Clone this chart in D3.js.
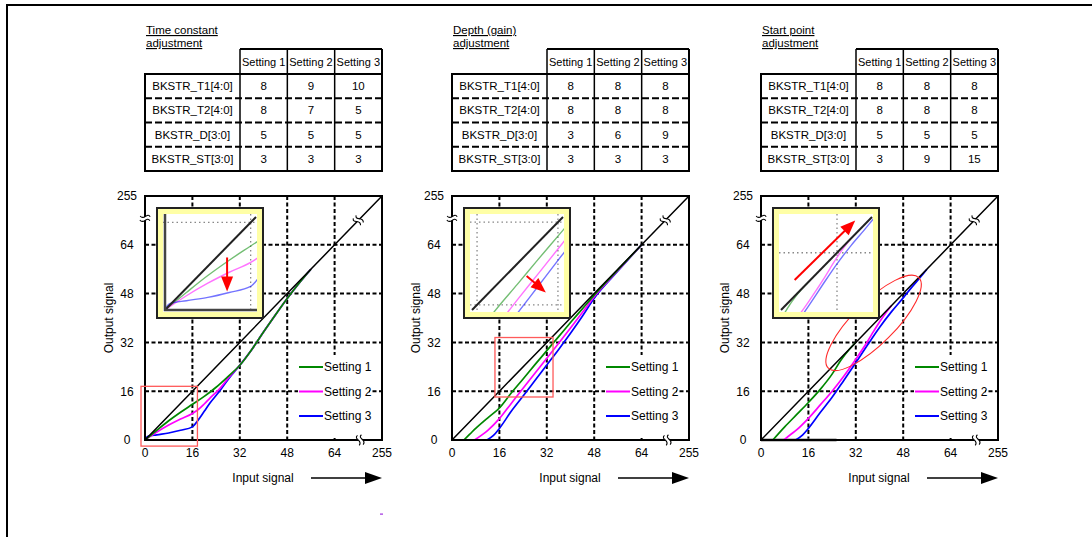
<!DOCTYPE html>
<meta charset="utf-8">
<title>BKSTR settings</title>
<style>
body { margin: 0; background: #fff; }
text { font-family: Arial, "Liberation Sans", sans-serif; fill: #000; }
text.title { font-size: 11.5px; text-decoration: underline; }
text.cell { font-size: 11.5px; text-anchor: middle; }
text.head { font-size: 11px; text-anchor: middle; }
text.tick { font-size: 12px; text-anchor: middle; }
text.axis { font-size: 12px; }
text.legend { font-size: 12px; }
</style>
<script src="https://d3js.org/d3.v7.min.js"></script>
<div id="chart"></div>
<script>

// tick values (piecewise axis: 0..64 then a break up to 255)
var ticks = [0, 16, 32, 48, 64, 255];
var settingNames = ["Setting 1", "Setting 2", "Setting 3"];
var registerNames = ["BKSTR_T1[4:0]", "BKSTR_T2[4:0]", "BKSTR_D[3:0]", "BKSTR_ST[3:0]"];

var timeTitle = ["Time constant", "adjustment"];
var depthTitle = ["Depth (gain)", "adjustment"];
var startTitle = ["Start point", "adjustment"];

var timeValues  = [[8, 9, 10], [8, 7, 5], [5, 5, 5], [3, 3, 3]];
var depthValues = [[8, 8, 8], [8, 8, 8], [3, 6, 9], [3, 3, 3]];
var startValues = [[8, 8, 8], [8, 8, 8], [5, 5, 5], [3, 9, 15]];

// curves [input, output]
var timeS1 = [[0,0],[4,3.2],[8,6.3],[12,9.1],[16,11.7],[20,14.3],[24,17.3],[28,20.8],[32,24.5],[36,29.6],[40,35.4],[44,41],[48,46.4],[52,51.4],[56,56]];
var timeS2 = [[0,0],[4,2.6],[8,4.9],[12,6.9],[16,8.7],[18,10],[20,11.8],[22,13.8],[25,16.6],[28,20.2],[32,24.5],[36,29.6],[40,35.4],[44,41],[48,46.4],[52,51.4],[56,56]];
var timeS3 = [[0,0.3],[1,1.2],[4,1.7],[8,2.3],[12,3.2],[16,4.3],[18,6.6],[20,9.4],[22,12.2],[25,15.8],[28,19.8],[32,24.5],[36,29.6],[40,35.4],[44,41],[48,46.4],[52,51.4],[56,56]];

var depthS1 = [[4,0],[6,1.9],[8,3.8],[12,7.2],[16,10.5],[20,15.4],[24,20],[28,24.7],[32,29.3],[36,33.9],[40,38.5],[44,43],[48,47.5],[56,55.8],[64,64]];
var depthS2 = [[7.6,0],[10,1.6],[12,3.1],[16,7],[20,12],[24,17],[28,21.9],[32,26.8],[36,31.7],[40,36.7],[44,41.8],[48,47],[56,55.6],[64,64]];
var depthS3 = [[11.8,0],[14,1.5],[16,3.8],[20,9.4],[24,14.4],[28,19.5],[32,24.6],[36,29.7],[40,35],[44,40.6],[48,46.5],[56,55.4],[64,64]];

var startS1 = [[4,0],[8,4.3],[12,8.3],[16,12.3],[20,16.6],[24,21.6],[27,26.2],[30,29.9],[32,32]];
var startS2 = [[7.7,0],[10,1.8],[12,3.3],[16,7.1],[20,11.5],[24,16],[28,21],[32,26.5],[36,32.4],[38,35.6],[40,38.7],[42,41.5],[44,44]];
var startS3 = [[11.7,0],[14,1.6],[16,3.8],[20,9],[24,14],[28,19.6],[32,25.3],[36,31.2],[40,36.9],[44,42],[48,46.6],[51,50.2],[54,53.6],[56,56]];

var seriesColors = ["#008800", "#ff00ff", "#0000ff"];

var panels = [
  { left: 145, title: timeTitle, table: timeValues, series: [timeS1, timeS2, timeS3],
    inset: { domain: [0, 17], dots: [16], axes: true, arrow: [[11.6, 9.6], [11.6, 3.4]] },
    mark: { kind: "rect", box: [-1.35, 17.7, -2, 17.6] } },
  { left: 452, title: depthTitle, table: depthValues, series: [depthS1, depthS2, depthS3],
    inset: { domain: [15, 33], dots: [16, 32], axes: false, arrow: [[25.8, 21.6], [29.6, 18.4]] },
    mark: { kind: "rect", box: [14.5, 34.1, 14.1, 33.6] } },
  { left: 761, title: startTitle, table: startValues, series: [startS1, startS2, startS3],
    inset: { domain: [24, 50], dots: [40], axes: false, arrow: [[27.9, 32.4], [45.2, 49]] },
    mark: { kind: "ellipse", center: [38, 38.4] } }
];

var W = 1092, H = 537;
var plotTop = 196, plotBottom = 440, plotW = 237;

var svg = d3.select("#chart").append("svg")
    .attr("width", W).attr("height", H);

// page frame (left and top edge)
svg.append("path")
    .attr("d", "M7,537 V5 H1092")
    .attr("fill", "none").attr("stroke", "#000").attr("stroke-width", 2);

// small stray mark under the first chart
svg.append("rect").attr("x", 380).attr("y", 513.5).attr("width", 3).attr("height", 1.2).attr("fill", "#a030e0");

function breakMark(g, x, y, angle) {
  var m = g.append("g").attr("transform", "translate(" + x + "," + y + ") rotate(" + angle + ")");
  m.append("path").attr("d", "M-2,-5 C-7,-2 3,1 -2,5 L2,5 C7,2 -3,-1 2,-5 Z").attr("fill", "#fff");
  m.append("path").attr("d", "M-2,-5 C-7,-2 3,1 -2,5").attr("fill", "none").attr("stroke", "#000").attr("stroke-width", 1.1);
  m.append("path").attr("d", "M2,-5 C-3,-2 7,1 2,5").attr("fill", "none").attr("stroke", "#000").attr("stroke-width", 1.1);
}

panels.forEach(function(p, pi) {
  var L = p.left;
  var g = svg.append("g");

  // ---- title + table
  p.title.forEach(function(t, i) {
    g.append("text").attr("class", "title").attr("x", L + 1).attr("y", 34 + i * 13).text(t);
  });
  var labW = 95, colW = (plotW - labW) / 3, headTop = 49, bodyTop = 74, rowH = 24.25;
  var colX = d3.range(4).map(function(i) { return L + labW + i * colW; });
  var bodyBottom = bodyTop + rowH * registerNames.length;
  // header
  settingNames.forEach(function(s, i) {
    g.append("text").attr("class", "head").attr("x", colX[i] + colW / 2).attr("y", 66).text(s);
  });
  // rows
  registerNames.forEach(function(r, ri) {
    var cy = bodyTop + rowH * ri + rowH / 2 + 4;
    g.append("text").attr("class", "cell").attr("x", L + labW / 2).attr("y", cy).text(r);
    p.table[ri].forEach(function(v, ci) {
      g.append("text").attr("class", "cell").attr("x", colX[ci] + colW / 2).attr("y", cy).text(v);
    });
    if (ri > 0) {
      g.append("line").attr("x1", L).attr("x2", L + plotW)
        .attr("y1", bodyTop + rowH * ri).attr("y2", bodyTop + rowH * ri)
        .attr("stroke", "#000").attr("stroke-width", 2).attr("stroke-dasharray", "7,3");
    }
  });
  colX.forEach(function(cx) {
    g.append("line").attr("x1", cx).attr("x2", cx).attr("y1", headTop).attr("y2", bodyBottom)
      .attr("stroke", "#000").attr("stroke-width", 1.5);
  });
  g.append("line").attr("x1", colX[0]).attr("x2", L + plotW).attr("y1", headTop).attr("y2", headTop)
    .attr("stroke", "#000").attr("stroke-width", 2);
  g.append("rect").attr("x", L).attr("y", bodyTop).attr("width", plotW).attr("height", bodyBottom - bodyTop)
    .attr("fill", "none").attr("stroke", "#000").attr("stroke-width", 2);
  g.append("line").attr("x1", L + plotW).attr("x2", L + plotW).attr("y1", headTop).attr("y2", bodyBottom)
    .attr("stroke", "#000").attr("stroke-width", 2);

  // ---- scales
  var x = d3.scaleLinear().domain(ticks)
      .range(ticks.map(function(d, i) { return L + i * plotW / (ticks.length - 1); }));
  var y = d3.scaleLinear().domain(ticks)
      .range(ticks.map(function(d, i) { return plotBottom - i * (plotBottom - plotTop) / (ticks.length - 1); }));

  // grid
  ticks.slice(1, -1).forEach(function(t) {
    g.append("line").attr("x1", x(t)).attr("x2", x(t)).attr("y1", plotTop).attr("y2", plotBottom)
      .attr("stroke", "#000").attr("stroke-width", 2).attr("stroke-dasharray", "4,2.5");
    g.append("line").attr("x1", L).attr("x2", L + plotW).attr("y1", y(t)).attr("y2", y(t))
      .attr("stroke", "#000").attr("stroke-width", 2).attr("stroke-dasharray", "4,2.5");
  });

  // grey base segment in start-point chart
  if (pi === 2) {
    g.append("line").attr("x1", x(0)).attr("x2", x(25.5)).attr("y1", plotBottom).attr("y2", plotBottom)
      .attr("stroke", "#888").attr("stroke-width", 3);
  }

  // curves (setting 1 drawn last so it sits on top)
  var line = d3.line().x(function(d) { return x(d[0]); }).y(function(d) { return y(d[1]); })
      .curve(d3.curveMonotoneX);
  p.series.slice().reverse().forEach(function(s, k) {
    var si = p.series.length - 1 - k;
    g.append("path").attr("d", line(s)).attr("fill", "none")
      .attr("stroke", seriesColors[si]).attr("stroke-width", 1.7);
  });
  // diagonal reference
  g.append("path").attr("d", d3.line().x(function(d) { return x(d); }).y(function(d) { return y(d); })(ticks))
    .attr("fill", "none").attr("stroke", "#000").attr("stroke-width", 1.5);

  // legend
  g.append("rect").attr("x", L + 153).attr("y", 355).attr("width", 71).attr("height", 83).attr("fill", "#fff");
  settingNames.forEach(function(s, si) {
    var ly = 367 + si * 24.5;
    g.append("line").attr("x1", L + 154).attr("x2", L + 178).attr("y1", ly).attr("y2", ly)
      .attr("stroke", seriesColors[si]).attr("stroke-width", 2);
    g.append("text").attr("class", "legend").attr("x", L + 179).attr("y", ly + 4.3).text(s);
  });

  // plot box
  g.append("rect").attr("x", L).attr("y", plotTop).attr("width", plotW).attr("height", plotBottom - plotTop)
    .attr("fill", "none").attr("stroke", "#000").attr("stroke-width", 2);

  // tick labels
  ticks.forEach(function(t) {
    g.append("text").attr("class", "tick").attr("x", x(t)).attr("y", 457).text(t);
    g.append("text").attr("class", "tick").attr("x", L - 18).attr("y", y(t) + 4.3).text(t);
  });

  // axis breaks
  var bx = (x(64) + x(255)) / 2, by = (y(64) + y(255)) / 2;
  breakMark(g, L, by - 2, 95);
  breakMark(g, bx + 2, plotBottom, -10);
  breakMark(g, bx, by, -46);

  // axis titles
  g.append("text").attr("class", "axis").attr("x", L + 118).attr("y", 482).attr("text-anchor", "middle").text("Input signal");
  g.append("line").attr("x1", L + 166).attr("x2", L + 222).attr("y1", 478).attr("y2", 478)
    .attr("stroke", "#000").attr("stroke-width", 1.5);
  g.append("path").attr("d", "M" + (L + 237) + ",478 L" + (L + 220) + ",472 L" + (L + 220) + ",484 Z").attr("fill", "#000");
  g.append("text").attr("class", "axis").attr("text-anchor", "middle")
    .attr("transform", "translate(" + (L - 32) + "," + ((plotTop + plotBottom) / 2) + ") rotate(-90)")
    .text("Output signal");

  // red annotation on main chart
  if (p.mark.kind === "rect") {
    var b = p.mark.box;
    g.append("rect").attr("x", x(b[0])).attr("y", y(b[3])).attr("width", x(b[1]) - x(b[0])).attr("height", y(b[2]) - y(b[3]))
      .attr("fill", "none").attr("stroke", "#ff5a5a").attr("stroke-width", 1.3);
  } else {
    g.append("ellipse").attr("transform", "translate(" + x(p.mark.center[0]) + "," + y(p.mark.center[1]) + ") rotate(-45)")
      .attr("rx", 64).attr("ry", 21).attr("fill", "none").attr("stroke", "#ff2a2a").attr("stroke-width", 1.1);
  }

  // ---- inset (magnified view)
  var ins = p.inset;
  var ox = L + 12, oy = 208, ow = 106, oh = 110;
  g.append("rect").attr("x", ox).attr("y", oy).attr("width", ow).attr("height", oh)
    .attr("fill", "#ffffa6").attr("stroke", "#222").attr("stroke-width", 2);
  g.append("rect").attr("x", ox + 6).attr("y", oy + 6).attr("width", ow - 12).attr("height", oh - 12).attr("fill", "#fff");
  var clipId = "clip" + pi;
  svg.append("clipPath").attr("id", clipId).append("rect")
    .attr("x", ox + 6).attr("y", oy + 6).attr("width", ow - 12).attr("height", oh - 12);
  var ig = g.append("g").attr("clip-path", "url(#" + clipId + ")");
  var ix = d3.scaleLinear().domain(ins.domain).range([L + 20, L + 111]);
  var iy = d3.scaleLinear().domain(ins.domain).range([310, 217]);
  ins.dots.forEach(function(t) {
    ig.append("line").attr("x1", ix(t)).attr("x2", ix(t)).attr("y1", oy + 6).attr("y2", oy + oh - 6)
      .attr("stroke", "#888").attr("stroke-width", 1.3).attr("stroke-dasharray", "1.5,3");
    ig.append("line").attr("x1", ox + 6).attr("x2", ox + ow - 6).attr("y1", iy(t)).attr("y2", iy(t))
      .attr("stroke", "#888").attr("stroke-width", 1.3).attr("stroke-dasharray", "1.5,3");
  });
  var iline = d3.line().x(function(d) { return ix(d[0]); }).y(function(d) { return iy(d[1]); })
      .curve(d3.curveMonotoneX);
  p.series.forEach(function(s, si) {
    ig.append("path").attr("d", iline(s)).attr("fill", "none")
      .attr("stroke", seriesColors[si]).attr("stroke-opacity", 0.55).attr("stroke-width", 1.4);
  });
  ig.append("line").attr("x1", ix(ins.domain[0])).attr("y1", iy(ins.domain[0]))
    .attr("x2", ix(ins.domain[1])).attr("y2", iy(ins.domain[1]))
    .attr("stroke", "#222").attr("stroke-width", 2);
  if (ins.axes) {
    ig.append("path").attr("d", "M" + ix(0) + "," + (oy + 6) + " V" + iy(0) + " H" + (ox + ow - 6))
      .attr("fill", "none").attr("stroke", "#444").attr("stroke-width", 2.5);
  }
  // red arrow
  var a0 = [ix(ins.arrow[0][0]), iy(ins.arrow[0][1])], a1 = [ix(ins.arrow[1][0]), iy(ins.arrow[1][1])];
  var ang = Math.atan2(a1[1] - a0[1], a1[0] - a0[0]) * 180 / Math.PI;
  var len = Math.hypot(a1[0] - a0[0], a1[1] - a0[1]);
  var ag = g.append("g").attr("transform", "translate(" + a0[0] + "," + a0[1] + ") rotate(" + ang + ")");
  ag.append("line").attr("x1", 0).attr("x2", len - 12).attr("y1", 0).attr("y2", 0)
    .attr("stroke", "#ff0000").attr("stroke-width", 2);
  ag.append("path").attr("d", "M" + len + ",0 L" + (len - 15) + ",-6 L" + (len - 15) + ",6 Z").attr("fill", "#ff0000");
});

</script>
